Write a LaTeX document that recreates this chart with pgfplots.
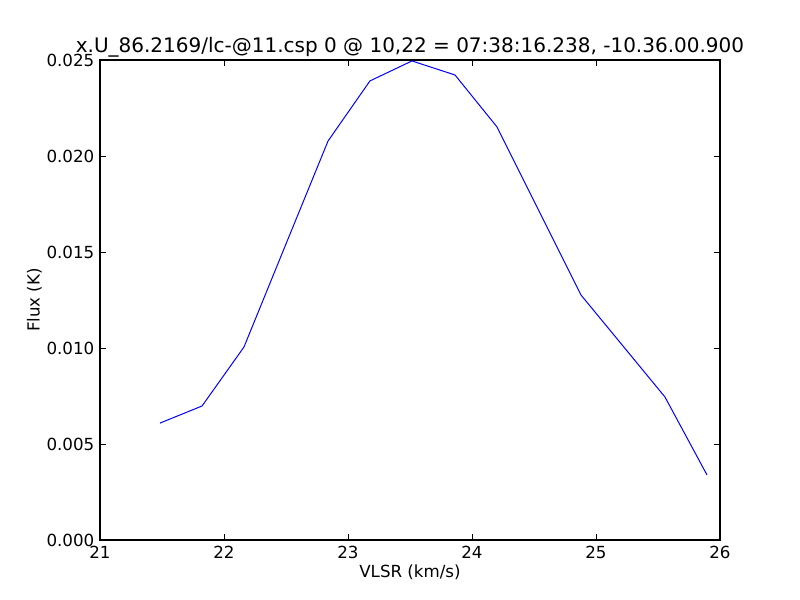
\documentclass[border=0pt]{standalone}
\usepackage{fontspec}
\setmainfont{DejaVu Sans}
\usepackage{pgfplots}
\pgfplotsset{compat=1.18}

\begin{document}
\fontsize{15bp}{18bp}\selectfont
\begin{tikzpicture}
\begin{axis}[
    at={(0,0)}, anchor=south west,
    scale only axis,
    width=558bp, height=432bp,
    xmin=21, xmax=26,
    ymin=0, ymax=0.025,
    xtick={21,22,23,24,25,26},
    ytick={0,0.005,0.01,0.015,0.02,0.025},
    yticklabel style={/pgf/number format/fixed, /pgf/number format/fixed zerofill, /pgf/number format/precision=3},
    scaled y ticks=false,
    /pgf/number format/assume math mode=true,
    tick align=inside,
    major tick length=5bp,
    tick style={black, line width=0.6bp},
    axis line style={line width=1bp},
    title={x.U\_86.2169/lc-@11.csp 0 @ 10,22 = 07:38:16.238, -10.36.00.900},
    title style={font=\fontsize{18bp}{21bp}\selectfont, yshift=-9bp},
    xlabel={VLSR (km/s)},
    ylabel={Flux (K)},
    label style={font=\fontsize{15bp}{18bp}\selectfont},
    xlabel style={yshift=4bp},
    ylabel style={yshift=-6bp},
    ticklabel style={font=\fontsize{15bp}{18bp}\selectfont},
]
\addplot[color=blue, line width=0.9bp, mark=none] coordinates {
    (21.484,0.00609)
    (21.823,0.00698)
    (22.161,0.01005)
    (22.500,0.01542)
    (22.839,0.02078)
    (23.177,0.02391)
    (23.516,0.02495)
    (23.863,0.02422)
    (24.202,0.02151)
    (24.540,0.01714)
    (24.879,0.01276)
    (25.556,0.00745)
    (25.895,0.00339)
};
\end{axis}
\path[use as bounding box] (-90bp,-54bp) rectangle (630bp,486bp);
\end{tikzpicture}
\end{document}
